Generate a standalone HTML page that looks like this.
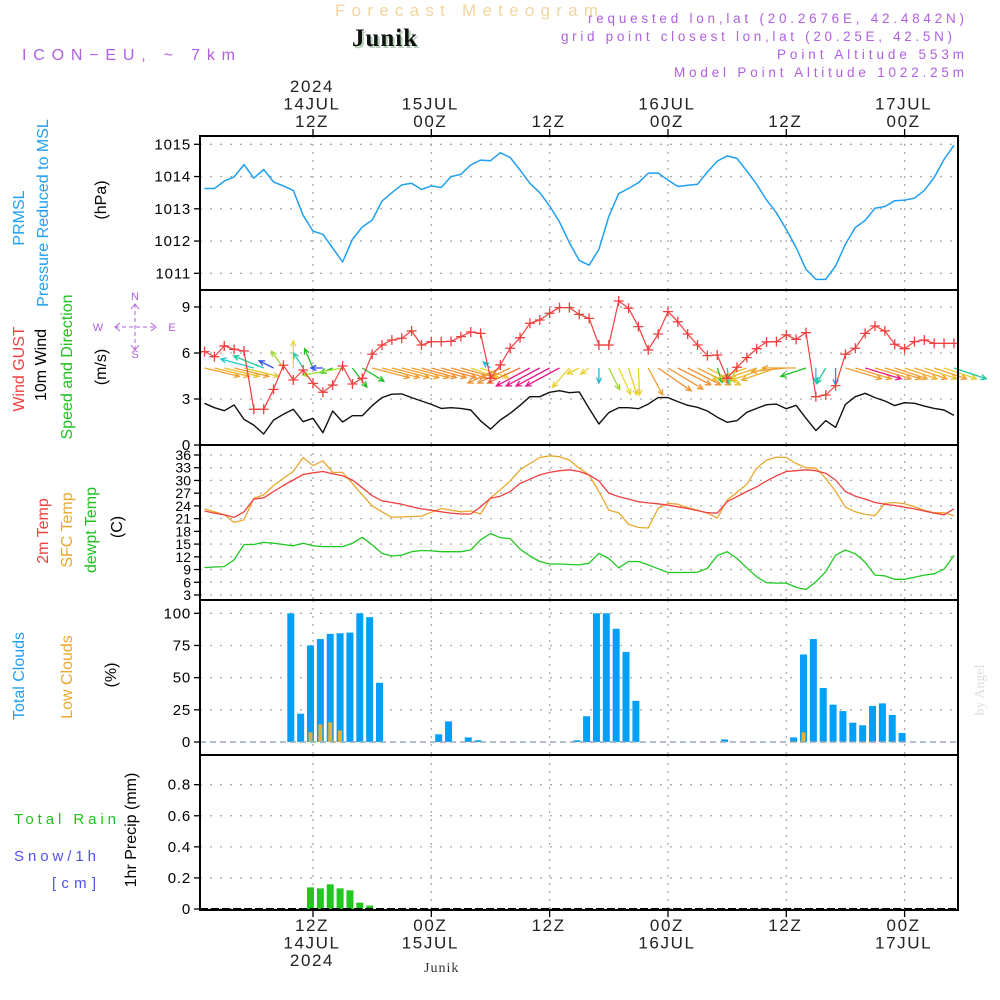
<!DOCTYPE html>
<html><head><meta charset="utf-8"><style>
html,body{margin:0;padding:0;background:#fff;}
svg{display:block;font-family:"Liberation Sans",sans-serif;}
</style></head><body>
<svg id="chart" width="1000" height="1000" viewBox="0 0 1000 1000" xmlns="http://www.w3.org/2000/svg">
<g id="hdr">
<text x="335" y="16" fill="#f3d59e" font-size="17" textLength="263" lengthAdjust="spacing">Forecast Meteogram</text>
<text x="354" y="48" font-family="Liberation Serif,serif" font-weight="bold" font-size="25" fill="#b8d0b8" letter-spacing="1">Junik</text>
<text x="352" y="46" font-family="Liberation Serif,serif" font-weight="bold" font-size="25" fill="#111" letter-spacing="1">Junik</text>
<text x="22" y="60" fill="#b060e0" font-size="16" textLength="213" lengthAdjust="spacing">ICON−EU, ~ 7km</text>
<g fill="#b060e0" font-size="13.5">
<text x="588" y="23" textLength="376" lengthAdjust="spacing">requested lon,lat (20.2676E, 42.4842N)</text>
<text x="561" y="41" textLength="391" lengthAdjust="spacing">grid point closest lon,lat (20.25E, 42.5N)</text>
<text x="777" y="59" textLength="187" lengthAdjust="spacing">Point Altitude 553m</text>
<text x="674" y="77" textLength="290" lengthAdjust="spacing">Model Point Altitude 1022.25m</text>
</g>
<text transform="translate(984,690) rotate(-90)" text-anchor="middle" font-family="Liberation Serif,serif" font-size="14" fill="#ddd">by Angel</text>
<text x="424" y="972" font-family="Liberation Serif,serif" font-size="14" fill="#333" letter-spacing="1">Junik</text>
</g>
<g id="grid"></g>
<g id="marks"></g>
<g id="axes"></g>
</svg>
<script>
// ---- data (hours from 14JUL 00Z) ----
const hours = [];for(let h=1;h<=77;h++)hours.push(h);
const pressure = [1013.63,1013.63,1013.86,1013.99,1014.37,1013.95,1014.22,1013.83,1013.71,1013.57,1012.80,1012.31,1012.21,1011.78,1011.35,1012.05,1012.44,1012.65,1013.24,1013.50,1013.74,1013.79,1013.60,1013.71,1013.66,1014.00,1014.07,1014.36,1014.51,1014.49,1014.74,1014.59,1014.20,1013.79,1013.50,1013.09,1012.59,1011.95,1011.40,1011.25,1011.74,1012.76,1013.47,1013.63,1013.81,1014.10,1014.11,1013.89,1013.69,1013.73,1013.76,1014.14,1014.48,1014.64,1014.56,1014.17,1013.76,1013.27,1012.88,1012.36,1011.80,1011.12,1010.81,1010.81,1011.23,1011.90,1012.42,1012.64,1013.02,1013.07,1013.25,1013.27,1013.33,1013.57,1013.97,1014.53,1014.97];
const gust = [6.09,5.76,6.46,6.24,6.13,2.33,2.33,3.63,5.20,4.24,4.89,4.02,3.44,3.91,5.15,3.98,4.35,5.92,6.52,6.85,6.96,7.44,6.52,6.74,6.74,6.76,7.07,7.37,7.28,4.35,5.22,6.31,7.0,7.94,8.15,8.59,8.96,8.96,8.52,8.26,6.52,6.52,9.39,8.92,7.72,6.2,7.24,8.7,8.04,7.24,6.52,5.83,5.87,4.35,5.07,5.7,6.28,6.72,6.74,7.18,6.89,7.33,3.15,3.26,3.87,5.92,6.31,7.28,7.76,7.44,6.57,6.28,6.74,6.85,6.63,6.63,6.63];
const wind10 = [2.72,2.43,2.24,2.61,1.67,1.30,0.72,1.63,2.00,2.33,1.52,1.74,0.80,2.22,1.50,1.91,1.91,2.57,3.09,3.31,3.33,3.09,2.87,2.65,2.39,2.43,2.39,2.28,1.57,1.04,1.63,2.07,2.59,3.15,3.15,3.44,3.54,3.41,3.46,2.39,1.37,2.11,2.43,2.43,2.37,2.67,3.09,3.09,2.83,2.59,2.46,2.22,1.81,1.48,1.59,2.13,2.39,2.63,2.67,2.37,2.59,1.74,0.94,1.59,1.15,2.65,3.15,3.37,3.09,2.87,2.57,2.76,2.72,2.54,2.39,2.28,1.93];
const windU = [2.9,2.9,2.9,2.9,2.9,-2.75,-2.5,-1.2,-1.0,0,-0.8,-0.7,-1.0,-1.0,-3.3,1.2,1.8,3.1,3.1,3.1,3.1,3.1,2.9,2.9,2.9,2.9,2.9,2.3,2.3,-0.6,-2.7,-2.7,-2.7,-2.8,-2.8,-2.8,-2.8,-1.4,-1.0,-0.7,0,0.9,1.0,0.7,0.1,1.2,2.75,2.9,2.75,2.75,2.75,2.75,0.4,0.2,-0.6,-2.9,-2.9,-2.9,-2.9,-2.9,-2.8,-2.1,0,-0.75,0,3.0,3.0,3.0,3.0,3.0,2.7,2.7,2.7,2.7,2.7,2.7,2.7];
const windV = [-0.7,-0.7,-0.7,-0.7,-0.7,0.75,1.0,0.6,1.4,2.25,1.25,1.6,0,-0.4,-0.6,-1.6,-1.1,-0.8,-0.8,-0.8,-0.8,-0.8,-0.8,-0.8,-0.8,-0.8,-0.8,-0.8,-0.8,0.5,-1.25,-1.25,-1.25,-1.5,-1.5,-1.5,-1.5,-1.6,-0.5,-0.5,-1.25,-1.8,-2.2,-2.25,-2.25,-2.25,-1.9,-1.75,-1.4,-1.4,-1.4,-1.4,-1.2,-1.3,-1.2,-1.0,-1.0,-1.0,-1.0,-0.3,0,-0.7,-1.2,-1.3,-1.4,-0.9,-0.9,-0.9,-0.9,-0.9,-0.9,-0.9,-0.9,-0.9,-0.9,-0.9,-0.9];
const windColor = ["#f0a030","#f0b030","#e8c030","#f0a030","#e8c838","#20c8c8","#20c8a0","#3050f0","#a0d830","#e8d830","#30c8a0","#20c020","#3050f0","#20c020","#a0e030","#20c020","#20c020","#f0a030","#f0a030","#f0a030","#f0a030","#f0a030","#f09030","#f09030","#f09030","#f09030","#f09030","#e8d030","#e8d030","#20b8e0","#f09030","#f09030","#f07030","#e8188a","#e8188a","#e8188a","#e8188a","#e8d030","#e8d030","#e8d030","#20b8d0","#a0d830","#e8d830","#e8d030","#e8d030","#f0a030","#f09030","#f09030","#f09030","#f09030","#f0a030","#e8c030","#20c020","#20c8a0","#a0e030","#e8c030","#f0b030","#e8c030","#e8b030","#f0a030","#f0a030","#20c020","#20b8e0","#20c8a0","#2090f0","#f0a030","#f0a030","#e8188a","#f0a030","#f0a030","#f0a030","#f0b030","#f0a030","#e8c030","#f0a030","#e8d030","#20c8a0"];
const temp2m = [22.8,22.3,21.9,21.3,22.6,25.6,25.9,27.4,28.8,30.1,31.4,31.8,32.1,31.6,31.1,30.1,28.3,26.4,25.2,24.8,24.4,23.8,23.3,23.0,22.6,22.3,22.1,22.1,23.8,25.8,26.3,27.4,29.3,30.3,31.3,31.9,32.3,32.5,32.1,31.3,29.9,27.0,26.2,25.6,25.0,24.7,24.5,24.2,23.8,23.4,22.9,22.4,22.3,25.0,26.2,27.4,28.5,29.9,31.1,32.1,32.3,32.5,32.3,31.7,30.1,27.4,26.3,25.6,24.8,24.4,24.1,23.7,23.3,22.8,22.3,21.9,23.3];
const tempSfc = [23.3,22.6,21.9,20.1,20.7,25.8,26.6,28.8,30.5,32.1,35.4,33.5,34.6,31.9,31.9,29.3,26.6,24.0,22.6,21.3,21.4,21.5,21.6,22.5,23.4,23.0,22.6,22.8,22.1,25.9,27.8,29.9,32.5,34.0,35.4,35.8,35.6,34.8,32.9,31.3,27.4,23.0,22.4,19.7,18.9,18.8,23.4,24.6,24.4,23.6,23.0,22.3,21.1,25.4,27.2,29.1,32.9,34.8,35.5,35.4,34.0,33.0,32.9,30.5,27.4,23.7,22.6,22.0,21.7,24.6,24.8,24.5,23.8,23.0,22.4,22.4,21.7];
const dewpt = [9.45,9.6,9.7,11.3,14.9,14.9,15.4,15.2,14.9,14.6,15.2,14.6,14.4,14.4,14.4,15.2,16.6,14.8,12.8,12.2,12.4,13.2,13.5,13.4,13.2,13.2,13.2,13.6,16.0,17.5,16.5,16.3,13.8,12.2,10.9,10.3,10.3,10.2,10.1,10.5,12.8,11.6,9.4,10.9,10.9,10.1,9.2,8.3,8.3,8.3,8.4,9.3,12.3,13.2,11.6,9.4,7.3,5.9,5.8,5.8,4.8,4.3,6.1,8.5,12.4,13.6,12.7,10.7,7.7,7.5,6.7,6.7,7.2,7.7,8.0,9.1,12.3];
const cloudTotal = [0,0,0,0,0,0,0,0,0,100,22,75,80,84,84.5,85,100,97,46,0,0,0,0,0,6,16,0,3.6,1.3,0,0,0,0,0,0,0,0,0,1.3,20,100,100,88,70,32,0,0,0,0,0,0,0,0,2,0,0,0,0,0,0,3.6,68,80,42,29,24,15,13,28,30,21,7,0,0,0,0,0];
const cloudLow = [0,0,0,0,0,0,0,0,0,0,0,7.5,13.7,15.3,9,0,0,0,0,0,0,0,0,0,0,0,0,0,0,0,0,0,0,0,0,0,0,0,0,0,0,0,0,0,0,0,0,0,0,0,0,0,0,0,0,0,0,0,0,0,0,7.5,0,0,0,0,0,0,0,0,0,0,0,0,0,0,0];
const precip = [0,0,0,0,0,0,0,0,0,0,0,0.139,0.133,0.159,0.133,0.12,0.041,0.022,0,0,0,0,0,0,0,0,0,0,0,0,0,0,0,0,0,0,0,0,0,0,0,0,0,0,0,0,0,0,0,0,0,0,0,0,0,0,0,0,0,0,0,0,0,0,0,0,0,0,0,0,0,0,0,0,0,0,0];
const pTicks = [1011,1012,1013,1014,1015];
const wTicks = [0,3,6,9];
const tTicks = [3,6,9,12,15,18,21,24,27,30,33,36];
const cTicks = [0,25,50,75,100];
const rTicks = [0,0.2,0.4,0.6,0.8];
const timeTicks = [12,24,36,48,60,72];
const topLabels = [["2024","14JUL","12Z"],["15JUL","00Z"],["12Z"],["16JUL","00Z"],["12Z"],["17JUL","00Z"]];
const bottomLabels = [["12Z","14JUL","2024"],["00Z","15JUL"],["12Z"],["00Z","16JUL"],["12Z"],["00Z","17JUL"]];

// ---- scales ----
const X0=200,X1=958;
const xs = h => 313 + (h-12)*9.86;
function lin(d0,d1,r0,r1){return v=>r0+(v-d0)*(r1-r0)/(d1-d0);}
const panels = {
 p:{top:136,bot:290,y:lin(1011,1015,273.3,144.3),ticks:pTicks,fmt:v=>v},
 w:{top:290,bot:445,y:lin(0,9,445,307),ticks:wTicks,fmt:v=>v},
 t:{top:445,bot:600,y:lin(3,36,595,455),ticks:tTicks,fmt:v=>v},
 c:{top:600,bot:755,y:lin(0,100,742,613.3),ticks:cTicks,fmt:v=>v},
 r:{top:755,bot:910,y:lin(0,0.8,909,784.7),ticks:rTicks,fmt:v=>v===0?"0":v.toFixed(1)}
};
const NS="http://www.w3.org/2000/svg";
function mk(tag,attrs,parent){const e=document.createElementNS(NS,tag);for(const k in attrs)e.setAttribute(k,attrs[k]);parent.appendChild(e);return e;}
const G=document.getElementById('grid'),M=document.getElementById('marks'),A=document.getElementById('axes');

for(const key in panels){
 const P=panels[key];
 P.ticks.forEach(v=>{
  const y=P.y(v);
  const gl=mk('line',{x1:X0,x2:X1,y1:y,y2:y,stroke:'#aaa','stroke-width':1.3,'stroke-dasharray':'2 8'},G);
  
  
  const tk=mk('line',{x1:X0-6,x2:X0,y1:y,y2:y,stroke:'#000','stroke-width':1.3},A);
  
  
  const tl=mk('text',{x:X0-9,y:y+5,'text-anchor':'end','font-size':key==='t'?14:15,fill:'#000','letter-spacing':key==='t'?0:0.8},A);
  tl.textContent=P.fmt(v);
  
  
 });
 timeTicks.forEach(h=>{
  const vl=mk('line',{x1:xs(h),x2:xs(h),y1:P.top,y2:P.bot,stroke:'#aaa','stroke-width':1.3,'stroke-dasharray':'2 6'},G);
  
  
 });
 const fr=mk('rect',{x:X0,y:P.top,width:X1-X0,height:P.bot-P.top,fill:'none',stroke:'#000','stroke-width':2},A);
 
 
}
timeTicks.forEach((h,i)=>{
 const x=xs(h);
 const t1=mk('line',{x1:x,x2:x,y1:129,y2:136,stroke:'#000','stroke-width':1.3},A);
 
 
 const t2=mk('line',{x1:x,x2:x,y1:910,y2:917,stroke:'#000','stroke-width':1.3},A);
 
 
 const tl=topLabels[i];
 tl.forEach((s,j)=>{
  const t=mk('text',{x:x-1,y:127-(tl.length-1-j)*17.5,'text-anchor':'middle','font-size':17,fill:'#222','letter-spacing':1.6},A);
  t.textContent=s;
  
  
 });
 bottomLabels[i].forEach((s,j)=>{
  const t=mk('text',{x:x-1,y:931+j*17.5,'text-anchor':'middle','font-size':17,fill:'#222','letter-spacing':1.6},A);
  t.textContent=s;
  
  
 });
});

function polyline(vals,yf,color,name,w){
 const pts=vals.map((v,i)=>xs(hours[i]).toFixed(1)+','+yf(v).toFixed(1)).join(' ');
 const pl=mk('polyline',{points:pts,fill:'none',stroke:color,'stroke-width':w||1.4,'stroke-linejoin':'round'},M);
 
 
}
polyline(pressure,panels.p.y,'#20a0f0','pressure-line',1.5);
const K=12, ARY=368;
windU.forEach((u,i)=>{
 const v=windV[i], x=xs(hours[i]), x2=x+u*K, y2=ARY-v*K;
 const ang=Math.atan2(y2-ARY,x2-x), L=6, a=0.45;
 const g=mk('g',{stroke:windColor[i],'stroke-width':1.3,fill:'none'},M);
 
 
 mk('line',{x1:x,y1:ARY,x2:x2,y2:y2},g);
 mk('polyline',{points:`${x2-L*Math.cos(ang-a)},${y2-L*Math.sin(ang-a)} ${x2},${y2} ${x2-L*Math.cos(ang+a)},${y2-L*Math.sin(ang+a)}`},g);
});
polyline(wind10,panels.w.y,'#111','wind10m-line',1.4);
polyline(gust,panels.w.y,'#f04040','gust-line',1.2);
gust.forEach((v,i)=>{
 const x=xs(hours[i]),y=panels.w.y(v);
 const p=mk('path',{d:`M${x-5} ${y}H${x+5}M${x} ${y-5}V${y+5}`,stroke:'#f04040','stroke-width':1.3},M);
 
 
});
polyline(tempSfc,panels.t.y,'#e8a830','sfc-temp-line',1.3);
polyline(temp2m,panels.t.y,'#f04040','temp2m-line',1.3);
polyline(dewpt,panels.t.y,'#20c820','dewpoint-line',1.3);
const c0=panels.c.y(0);
cloudTotal.forEach((v,i)=>{
 const x=xs(hours[i])-2.5;
 const r=mk('rect',{x:x-3.5,y:panels.c.y(v),width:7,height:Math.max(c0-panels.c.y(v),0),fill:'#00a0f8'},M);
 
 
});
cloudLow.forEach((v,i)=>{
 const x=xs(hours[i])-2.5;
 const r=mk('rect',{x:x-2,y:panels.c.y(v),width:4,height:Math.max(c0-panels.c.y(v),0),fill:'#e8b030'},M);
 
 
});
const cb=mk('line',{x1:X0,x2:X1,y1:c0,y2:c0,stroke:'#9ab','stroke-width':1.5,'stroke-dasharray':'6 4'},M);


const r0=panels.r.y(0);
precip.forEach((v,i)=>{
 const x=xs(hours[i])-2.5;
 const r=mk('rect',{x:x-3.5,y:panels.r.y(v),width:7,height:Math.max(r0-panels.r.y(v),0),fill:'#20c820'},M);
 
 
});
const rb=mk('line',{x1:X0,x2:X1,y1:r0,y2:r0,stroke:'#000','stroke-width':2,'stroke-dasharray':'8 3'},M);



const titles=[
 ['PRMSL','#20a0f0',24,218,16],['Pressure Reduced to MSL','#20a0f0',48,213,16],['(hPa)','#000',106,200,16],
 ['Wind GUST','#f04040',24,369,16],['10m Wind','#000',46,365,16],['Speed and Direction','#20c020',72,367,16],['(m/s)','#000',106,367,16],
 ['2m Temp','#f04040',48,531,16],['SFC Temp','#e8a830',72,530,16],['dewpt Temp','#20c020',96,530,16],['(C)','#000',122,527,16],
 ['Total Clouds','#20a0f0',24,676,16],['Low Clouds','#e8a830',72,677,16],['(%)','#000',116,675,16],
 ['1hr Precip (mm)','#000',136,830,16]
];
titles.forEach(t=>{
 const e=mk('text',{transform:`translate(${t[2]},${t[3]}) rotate(-90)`,'text-anchor':'middle',fill:t[1],'font-size':t[4]},A);
 e.textContent=t[0];
 
 
});
const hl=[['Total   Rain','#20c020',14,824,102],['Snow/1h','#5050f0',14,861,82],['[cm]','#5050f0',52,888,44]];
hl.forEach(t=>{
 const e=mk('text',{x:t[2],y:t[3],fill:t[1],'font-size':15,textLength:t[4],lengthAdjust:'spacing'},A);
 e.textContent=t[0];
 
 
});
// compass
const cg=mk('g',{fill:'#b060e0','font-size':11,'text-anchor':'middle'},A);


[['N',135,300],['W',98,331],['E',172,331],['S',135,358]].forEach(t=>{const e=mk('text',{x:t[1],y:t[2]},cg);e.textContent=t[0];});
const cl=mk('g',{stroke:'#b060e0','stroke-width':1,fill:'none'},cg);
mk('line',{x1:115,x2:156,y1:327,y2:327,'stroke-dasharray':'4 3'},cl);
mk('line',{x1:135,x2:135,y1:304,y2:350,'stroke-dasharray':'4 3'},cl);
mk('polyline',{points:'120,323 115,327 120,331'},cl);
mk('polyline',{points:'151,323 156,327 151,331'},cl);
mk('polyline',{points:'131,309 135,304 139,309'},cl);
mk('polyline',{points:'131,345 135,350 139,345'},cl);
</script>
</body></html>
